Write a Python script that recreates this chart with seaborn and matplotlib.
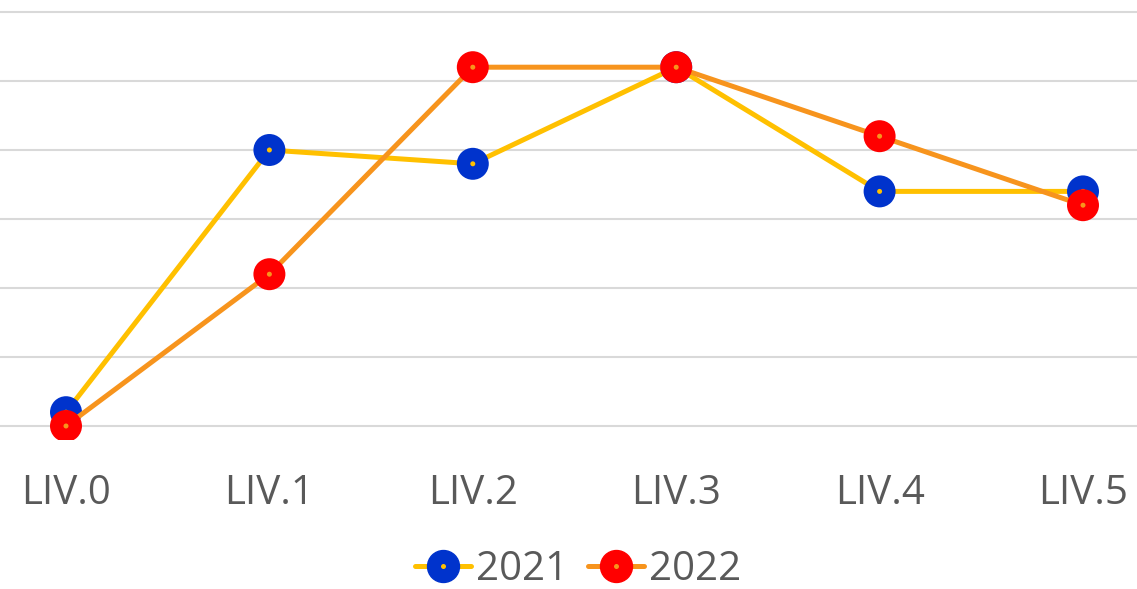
import numpy as np
import pandas as pd
import matplotlib
matplotlib.use('Agg')
import matplotlib.pyplot as plt
from matplotlib.lines import Line2D
import seaborn as sns

# ─── data ───────────────────────────────────────────────────────────────
levels = ['LIV.0', 'LIV.1', 'LIV.2', 'LIV.3', 'LIV.4', 'LIV.5']
vals_2021 = [0.2, 4.0, 3.8, 5.2, 3.4, 3.4]
vals_2022 = [0.0, 2.2, 5.2, 5.2, 4.2, 3.2]
years = ['2021', '2022']

LINE_COL = {'2021': '#FFC000', '2022': '#F7941D'}
MARK_COL = {'2021': '#0033CC', '2022': '#FF0000'}
TEXT = '#595959'
GRID = '#D9D9D9'

df = pd.DataFrame({
    'pos': list(range(len(levels))) * 2,
    'value': vals_2021 + vals_2022,
    'year': ['2021'] * len(levels) + ['2022'] * len(levels),
})

sns.set_theme(style='white')
plt.rcParams['font.family'] = ['Open Sans', 'DejaVu Sans']

fig = plt.figure(figsize=(11.37, 5.89), dpi=100)
ax = fig.add_axes([0, 149 / 589, 1, 435 / 589])

for i, yr in enumerate(years):
    sub = df[df['year'] == yr]
    sns.lineplot(data=sub, x='pos', y='value', color=LINE_COL[yr],
                 linewidth=3.6, ax=ax, zorder=2 + 2 * i, legend=False)
    sns.scatterplot(data=sub, x='pos', y='value', color=MARK_COL[yr],
                    s=530, edgecolor='none', ax=ax, zorder=3 + 2 * i, legend=False)
    sns.scatterplot(data=sub, x='pos', y='value', color=LINE_COL[yr],
                    s=13, edgecolor='none', ax=ax, zorder=3.5 + 2 * i, legend=False)

ax.set_xlim(-66 / 203.4, 5 + 54 / 203.4)
ax.set_ylim(-14 / 69, 6 + 7 / 69)
ax.set_yticks(range(0, 7))
ax.set_yticklabels([])
ax.set_xticks(range(len(levels)))
ax.set_xticklabels(levels, fontsize=29, color=TEXT)
ax.tick_params(axis='both', length=0)
ax.tick_params(axis='x', pad=24)
ax.grid(axis='y', color=GRID, linewidth=1.5)
ax.grid(axis='x', visible=False)
ax.set_xlabel('')
ax.set_ylabel('')
for sp in ax.spines.values():
    sp.set_visible(False)

handles = [(Line2D([0], [0], color=LINE_COL[yr], linewidth=3.6, marker='o',
                   markersize=23, markerfacecolor=MARK_COL[yr],
                   markeredgecolor=MARK_COL[yr]),
            Line2D([0], [0], linestyle='none', marker='o', markersize=3.6,
                   markerfacecolor=LINE_COL[yr], markeredgecolor='none'))
           for yr in years]
leg = fig.legend(handles, years, loc='center', bbox_to_anchor=(578 / 1137, 1 - 570 / 589),
                 ncol=2, frameon=False, fontsize=29, handlelength=1.4,
                 handletextpad=0.12, columnspacing=0.5, labelcolor=TEXT)

fig.savefig('out.png', dpi=100, facecolor='white')
